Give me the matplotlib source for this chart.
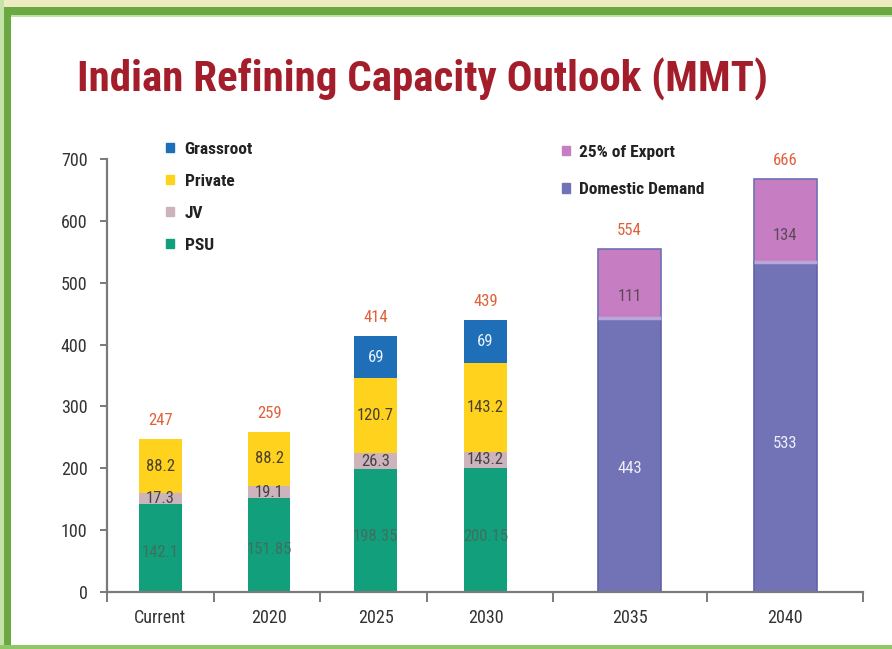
import matplotlib.pyplot as plt
from matplotlib.patches import Rectangle, Patch

# Datos
categorias = ['Current', '2020', '2025', '2030', '2035', '2040']
psu = [142.1, 151.85, 198.35, 200.15]
jv = [17.3, 19.1, 26.3, 26.65]
privado = [88.2, 88.2, 120.7, 143.2]
grassroot = [0, 0, 69, 69]
domestica = [443, 533]
exportacion = [111, 134]
totales = ['247', '259', '414', '439', '554', '666']

psu_txt = ['142.1', '151.85', '198.35', '200.15']
jv_txt = ['17.3', '19.1', '26.3', '143.2']
priv_txt = ['88.2', '88.2', '120.7', '143.2']
grass_txt = ['', '', '69', '69']
dom_txt = ['443', '533']
exp_txt = ['111', '134']

# Colores
c_psu = '#12A07C'
c_jv = '#CDB3BC'
c_priv = '#FFD21E'
c_grass = '#1E6FB8'
c_dom = '#7272B6'
c_exp = '#C77DC1'

fuente = ['Liberation Sans Narrow', 'Roboto Condensed', 'DejaVu Sans']
plt.rcParams['font.family'] = fuente

W, H = 892, 649
fig = plt.figure(figsize=(W / 100, H / 100), dpi=100)
fig.patch.set_facecolor('white')

def rect(x0, y0, w, h, color):
    # rectangulo en pixeles (y desde arriba)
    fig.add_artist(Rectangle((x0 / W, 1 - (y0 + h) / H), w / W, h / H,
                             transform=fig.transFigure, color=color, lw=0, zorder=0))

rect(0, 0, W, 7, '#EEEBC3')
rect(0, 7, W, 8, '#6AA842')
rect(0, 15, W, 2, '#BFE0A5')
rect(0, 0, 4, H, '#C5E3A8')
rect(4, 7, 7, H, '#6AA842')
rect(0, 645, W, 4, '#8CC866')

ax = fig.add_axes([107 / W, 1 - 592 / H, 756 / W, 433 / H])
ax.set_facecolor('none')

x_pos = [0.5, 1.52, 2.52, 3.55, 4.9, 6.36]
limites = [0, 1, 2, 3, 4.18, 5.63, 7.09]
ancho = 0.40
ancho2 = 0.59

xs = x_pos[:4]
b1 = ax.bar(xs, psu, ancho, color=c_psu, zorder=2)
base = list(psu)
b2 = ax.bar(xs, jv, ancho, bottom=base, color=c_jv, zorder=2)
base2 = [a + b for a, b in zip(base, jv)]
b3 = ax.bar(xs, privado, ancho, bottom=base2, color=c_priv, zorder=2)
base3 = [a + b for a, b in zip(base2, privado)]
b4 = ax.bar(xs, grassroot, ancho, bottom=base3, color=c_grass, zorder=2)
tope = [a + b for a, b in zip(base3, grassroot)]

xd = x_pos[4:]
b5 = ax.bar(xd, domestica, ancho2, color=c_dom, edgecolor='#6262A8', lw=1.2, zorder=2)
b6 = ax.bar(xd, exportacion, ancho2, bottom=domestica, color=c_exp,
            edgecolor='#7070B4', lw=1.2, zorder=2)
# franja clara en la union de los segmentos
ax.hlines(domestica, [x - ancho2 / 2 for x in xd], [x + ancho2 / 2 for x in xd],
          color='#B9A6DA', lw=2.5, zorder=2.5)
tope += [a + b for a, b in zip(domestica, exportacion)]

fs = 12
# etiquetas de segmentos
for i, x in enumerate(xs):
    ax.text(x, psu[i] * 0.45, psu_txt[i], ha='center', va='center', fontsize=fs,
            color='#3F6F5F', zorder=3)
    ax.text(x, base[i] + jv[i] / 2, jv_txt[i], ha='center', va='center', fontsize=fs,
            color='#444444', zorder=3)
    ax.text(x, base2[i] + privado[i] / 2, priv_txt[i], ha='center', va='center',
            fontsize=fs, color='#4A4030', zorder=3)
    if grassroot[i]:
        ax.text(x, base3[i] + grassroot[i] / 2, grass_txt[i], ha='center', va='center',
                fontsize=fs, color='#EAF2FA', zorder=3)
for i, x in enumerate(xd):
    ax.text(x, domestica[i] * 0.45, dom_txt[i], ha='center', va='center', fontsize=fs,
            color='#EEEEF8', zorder=3)
    ax.text(x, domestica[i] + exportacion[i] * 0.32, exp_txt[i], ha='center',
            va='center', fontsize=fs, color='#5A4A5A', zorder=3)

# totales
for x, t, lab in zip(x_pos, tope, totales):
    ax.annotate(lab, (x, t), xytext=(0, 8), textcoords='offset points',
                ha='center', va='bottom', fontsize=fs, color='#E0603A')

# ejes
ax.set_xlim(0, 7.09)
ax.set_ylim(0, 700)
for s in ['top', 'right']:
    ax.spines[s].set_visible(False)
for s in ['left', 'bottom']:
    ax.spines[s].set_color('#7A7A7A')
    ax.spines[s].set_linewidth(1.6)
ax.set_yticks(range(0, 701, 100))
ax.tick_params(axis='y', length=5, width=1.4, color='#7A7A7A', pad=9,
               labelsize=13, labelcolor='#333333')
ax.set_xticks(limites)
ax.set_xticklabels([])
ax.tick_params(axis='x', which='major', length=7, width=1.4, color='#7A7A7A')
ax.set_xticks(x_pos, minor=True)
ax.set_xticklabels(categorias, minor=True)
ax.tick_params(axis='x', which='minor', length=0, pad=12, labelsize=13,
               labelcolor='#333333')

# titulo
fig.text(0.474, 0.878, 'Indian Refining Capacity Outlook (MMT)', ha='center',
         va='center', fontsize=31, fontweight='bold', color='#A31E2A')

# leyendas
h1 = [Patch(color=c_grass), Patch(color=c_priv), Patch(color=c_jv), Patch(color=c_psu)]
leg1 = fig.legend(h1, ['Grassroot', 'Private', 'JV', 'PSU'], loc='upper left',
                  bbox_to_anchor=(150 / W, 1 - 126 / H), frameon=False,
                  handlelength=0.5, handleheight=0.5, handletextpad=0.6,
                  labelspacing=0.98, prop={'weight': 'bold', 'size': 12.5})
h2 = [Patch(color=c_exp), Patch(color=c_dom)]
leg2 = fig.legend(h2, ['25% of Export', 'Domestic Demand'], loc='upper left',
                  bbox_to_anchor=(546 / W, 1 - 129 / H), frameon=False,
                  handlelength=0.5, handleheight=0.5, handletextpad=0.5,
                  labelspacing=1.3, prop={'weight': 'bold', 'size': 12.5})
for t in leg1.get_texts() + leg2.get_texts():
    t.set_color('#222222')

fig.savefig('out.png', dpi=100)
